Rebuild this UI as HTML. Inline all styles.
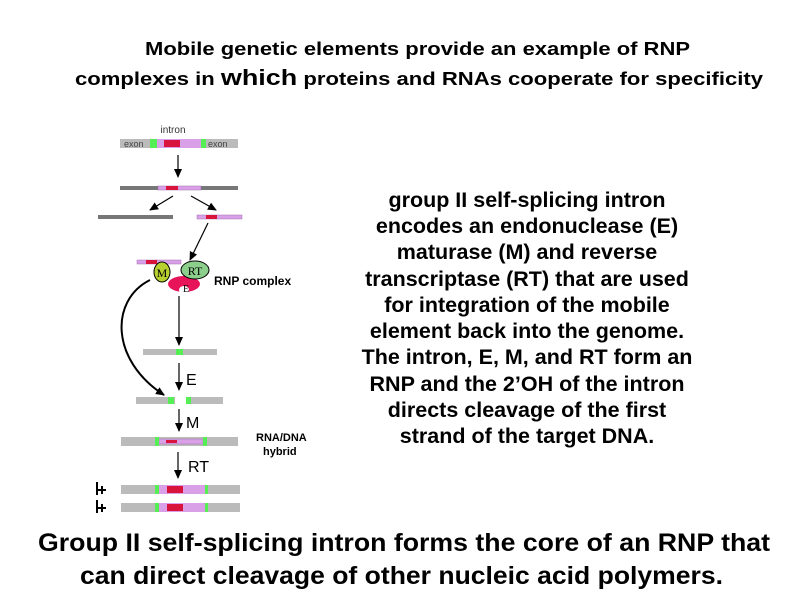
<!DOCTYPE html>
<html><head><meta charset="utf-8"><style>
html,body{margin:0;padding:0;background:#fff;}
svg{display:block;font-family:"Liberation Sans",Arial,sans-serif;}
</style></head><body>
<svg width="800" height="600" viewBox="0 0 800 600" xmlns="http://www.w3.org/2000/svg">
<defs>
<marker id="ah" markerWidth="10" markerHeight="10" refX="8" refY="5" orient="auto" markerUnits="userSpaceOnUse">
<path d="M0,1 L9,5 L0,9 Z" fill="#000"/></marker>
</defs>
<g font-weight="bold" fill="#000">
<text x="145" y="55" font-size="18" textLength="545" lengthAdjust="spacingAndGlyphs">Mobile genetic elements provide an example of RNP</text>
<text x="75" y="85" font-size="18" textLength="688" lengthAdjust="spacingAndGlyphs">complexes in <tspan font-size="22">which</tspan> proteins and RNAs cooperate for specificity</text>
<g font-size="21.5" text-anchor="middle">
<text x="527" y="207">group II self-splicing intron</text>
<text x="527" y="233">encodes an endonuclease (E)</text>
<text x="527" y="259">maturase (M) and reverse</text>
<text x="527" y="286">transcriptase (RT) that are used</text>
<text x="527" y="312">for integration of the mobile</text>
<text x="527" y="338">element back into the genome.</text>
<text x="527" y="364">The intron, E, M, and RT form an</text>
<text x="527" y="391">RNP and the 2’OH of the intron</text>
<text x="527" y="417">directs cleavage of the first</text>
<text x="527" y="443">strand of the target DNA.</text>
</g>
<text x="38" y="551" font-size="25" textLength="732" lengthAdjust="spacingAndGlyphs">Group II self-splicing intron forms the core of an RNP that</text>
<text x="80" y="584" font-size="25" textLength="643" lengthAdjust="spacingAndGlyphs">can direct cleavage of other nucleic acid polymers.</text>
</g>
<!-- diagram -->
<text x="173" y="133" font-size="10" text-anchor="middle" fill="#333">intron</text>
<rect x="120" y="139" width="118" height="9" fill="#bbb"/>
<rect x="157" y="139" width="44" height="9" fill="#d9a0e8"/>
<rect x="150" y="139" width="7" height="9" fill="#5e5"/>
<rect x="201" y="139" width="5" height="9" fill="#5e5"/>
<rect x="164" y="140" width="16" height="7" fill="#d8143c"/>
<text x="124" y="147" font-size="9" fill="#444">exon</text>
<text x="208" y="147" font-size="9" fill="#444">exon</text>
<line x1="178" y1="155" x2="178" y2="177" stroke="#000" stroke-width="1.2" marker-end="url(#ah)"/>
<rect x="120" y="186" width="118" height="4" fill="#777"/>
<rect x="158" y="186" width="43" height="4" fill="#d9a0e8" stroke="#a070b0" stroke-width="0.5"/>
<rect x="166" y="186" width="12" height="4" fill="#d8143c"/>
<line x1="173" y1="196" x2="150" y2="210" stroke="#000" stroke-width="1.2" marker-end="url(#ah)"/>
<line x1="191" y1="196" x2="216" y2="210" stroke="#000" stroke-width="1.2" marker-end="url(#ah)"/>
<rect x="98" y="215" width="75" height="4" fill="#777"/>
<rect x="197" y="215" width="45" height="4" fill="#d9a0e8" stroke="#a070b0" stroke-width="0.5"/>
<rect x="206" y="215" width="11" height="4" fill="#d8143c"/>
<line x1="208" y1="223" x2="190" y2="260" stroke="#000" stroke-width="1.2" marker-end="url(#ah)"/>
<rect x="137" y="260" width="44" height="4" fill="#d9a0e8" stroke="#a070b0" stroke-width="0.5"/>
<rect x="146" y="260" width="11" height="4" fill="#d8143c"/>
<ellipse cx="184" cy="284" rx="16" ry="8" fill="#e8145a"/>
<ellipse cx="184" cy="290" rx="5" ry="4" fill="#fff"/>
<text x="186" y="292" font-size="10" font-family="Liberation Serif" text-anchor="middle">E</text>
<ellipse cx="162" cy="272" rx="8" ry="10" fill="#b8d030" stroke="#000" stroke-width="1"/>
<text x="162" y="277" font-size="12" font-family="Liberation Serif" text-anchor="middle">M</text>
<ellipse cx="195" cy="270" rx="14" ry="9" fill="#8ccf8c" stroke="#000" stroke-width="1"/>
<text x="195" y="275" font-size="12" font-family="Liberation Serif" text-anchor="middle">RT</text>
<text x="214" y="285" font-size="12" font-weight="bold">RNP complex</text>
<path d="M150,280 C110,300 110,360 164,395" fill="none" stroke="#000" stroke-width="2" marker-end="url(#ah)"/>
<line x1="179" y1="296" x2="179" y2="345" stroke="#000" stroke-width="1.2" marker-end="url(#ah)"/>
<rect x="143" y="349" width="74" height="6" fill="#bbb"/>
<rect x="176" y="349" width="7" height="6" fill="#5e5"/>
<line x1="179" y1="363" x2="179" y2="390" stroke="#000" stroke-width="1.2" marker-end="url(#ah)"/>
<text x="186" y="385" font-size="16">E</text>
<rect x="136" y="397" width="39" height="7" fill="#bbb"/>
<rect x="168" y="397" width="6" height="7" fill="#5e5"/>
<rect x="186" y="397" width="37" height="7" fill="#bbb"/>
<rect x="186" y="397" width="5" height="7" fill="#5e5"/>
<line x1="179" y1="409" x2="179" y2="431" stroke="#000" stroke-width="1.2" marker-end="url(#ah)"/>
<text x="186" y="428" font-size="16">M</text>
<rect x="121" y="437" width="117" height="9" fill="#bbb"/>
<rect x="159" y="439" width="44" height="5" fill="#d9a0e8" stroke="#a070b0" stroke-width="0.5"/>
<rect x="166" y="440" width="11" height="3" fill="#d8143c"/>
<rect x="155" y="437" width="4" height="9" fill="#5e5"/>
<rect x="203" y="437" width="4" height="9" fill="#5e5"/>
<text x="256" y="441" font-size="11" font-weight="bold">RNA/DNA</text>
<text x="263" y="455" font-size="11" font-weight="bold">hybrid</text>
<line x1="178" y1="452" x2="178" y2="478" stroke="#000" stroke-width="1.2" marker-end="url(#ah)"/>
<text x="188" y="472" font-size="16">RT</text>
<g>
<rect x="121" y="485" width="119" height="9" fill="#bbb"/>
<rect x="159" y="485" width="46" height="9" fill="#d9a0e8"/>
<rect x="167" y="486" width="16" height="7" fill="#d8143c"/>
<rect x="155" y="485" width="4" height="9" fill="#5e5"/>
<rect x="205" y="485" width="3" height="9" fill="#5e5"/>
<rect x="121" y="503" width="119" height="9" fill="#bbb"/>
<rect x="159" y="503" width="46" height="9" fill="#d9a0e8"/>
<rect x="167" y="504" width="16" height="7" fill="#d8143c"/>
<rect x="155" y="503" width="4" height="9" fill="#5e5"/>
<rect x="205" y="503" width="3" height="9" fill="#5e5"/>
</g>
<path d="M97,482 V495 M97,490 H106 M102,486 V494 M97,500 V513 M97,508 H106 M102,504 V512" stroke="#000" stroke-width="2" fill="none"/>
</svg>
</body></html>
